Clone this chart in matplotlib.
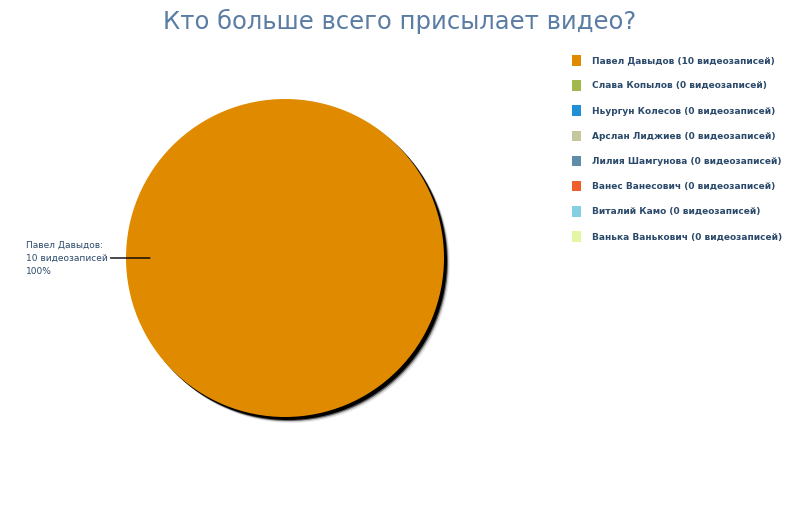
import numpy as np
import matplotlib.pyplot as plt
from matplotlib.patches import Circle

# данные
names = ["Павел Давыдов", "Слава Копылов", "Ньургун Колесов", "Арслан Лиджиев",
         "Лилия Шамгунова", "Ванес Ванесович", "Виталий Камо", "Ванька Ванькович"]
videos = [10, 0, 0, 0, 0, 0, 0, 0]
colors = ["#e08a00", "#a2b84c", "#1f8fd6", "#c6c79a",
          "#5f8ca8", "#ef5f2c", "#84cfe2", "#e4f5a3"]
title = "Кто больше всего присылает видео?"

text_col = "#2b4a6b"

fig = plt.figure(figsize=(8, 5.2), dpi=100)
ax = fig.add_axes([0, 0, 1, 1])

cx, cy, r = 285, 258, 159
wedges, _ = ax.pie(videos, colors=colors, startangle=0, center=(cx, cy), radius=r,
                   frame=True, wedgeprops=dict(linewidth=0, zorder=3))
ax.set_xlim(0, 800)
ax.set_ylim(520, 0)
ax.set_aspect("equal")
ax.axis("off")

# тень под диаграммой (размытая)
for d, a in [(6, 0.08), (5, 0.15), (4, 0.5), (3, 1.0)]:
    ax.add_patch(Circle((cx + d, cy + d), r, color="black", alpha=a, lw=0, zorder=2))

# подпись к самому большому сектору
total = sum(videos)
i = int(np.argmax(videos))
w = wedges[i]
ang = np.deg2rad((w.theta1 + w.theta2) / 2)
ex, ey = cx + r * 0.85 * np.cos(ang), cy + r * 0.85 * np.sin(ang)
label = f"{names[i]}:\n{videos[i]} видеозаписей\n{videos[i] / total * 100:.0f}%"
ax.annotate(label, xy=(ex, ey), xytext=(26, ey), ha="left", va="center",
            fontsize=6.5, color=text_col, linespacing=1.6, zorder=5,
            arrowprops=dict(arrowstyle="-", color="black", lw=1,
                            shrinkA=0, shrinkB=0, relpos=(1.0, 0.5)))

leg_labels = [f"{n} ({v} видеозаписей)" for n, v in zip(names, videos)]
leg = fig.legend(wedges, leg_labels, loc="upper left",
                 bbox_to_anchor=(572 / 800, 1 - 55 / 520), frameon=False,
                 fontsize=6.5, handlelength=0.97, handleheight=1.42,
                 handletextpad=1.2, labelspacing=1.62, borderpad=0, borderaxespad=0)
for t in leg.get_texts():
    t.set_color(text_col)
    t.set_fontweight("bold")

fig.text(0.5, 1 - 21 / 520, title, ha="center", va="center",
         fontsize=17.5, color="#5b7ca3")

fig.savefig("out.png", dpi=100, facecolor="white")
